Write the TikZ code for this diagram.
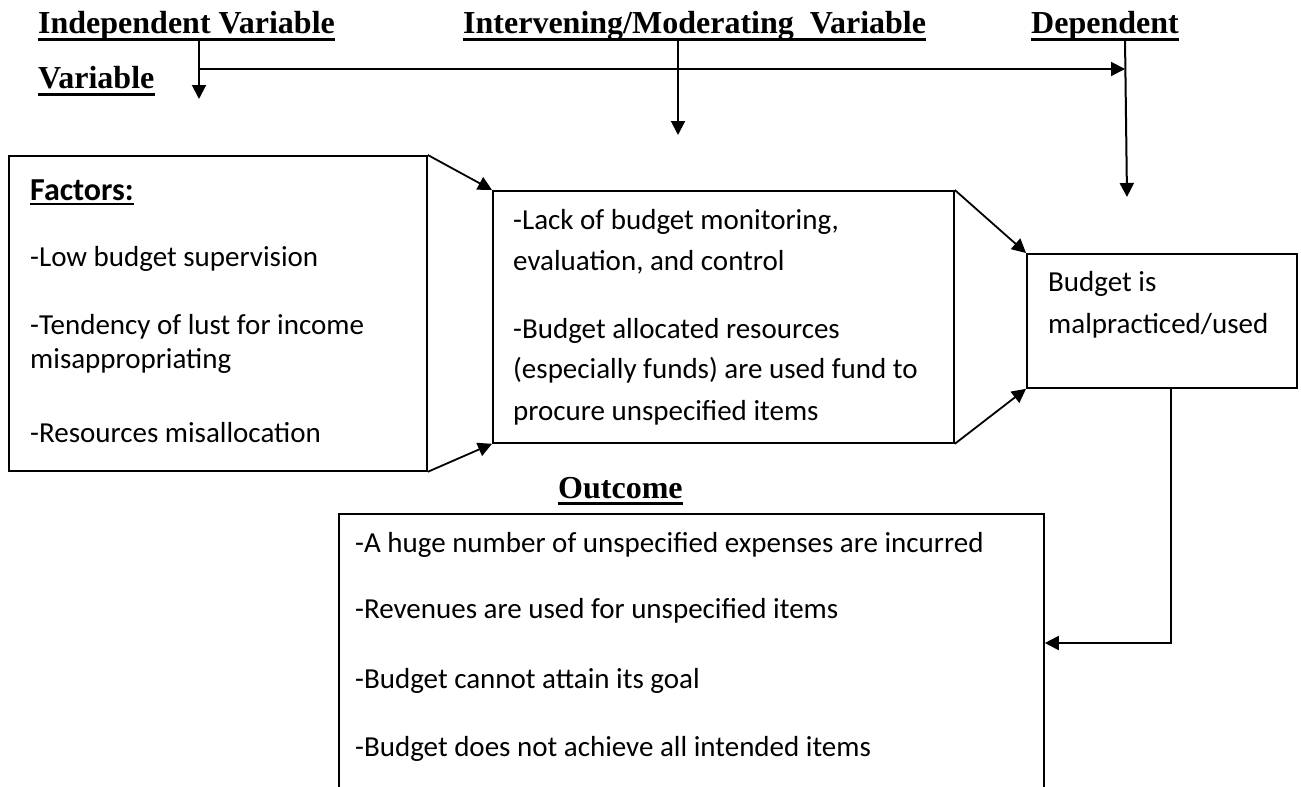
\documentclass[tikz,border=0pt]{standalone}
\usepackage{fontspec}
\setmainfont{Carlito}
\newfontfamily\headfont{Liberation Serif}
\usetikzlibrary{arrows.meta}
\begin{document}
\begin{tikzpicture}[x=1pt,y=-1pt,
  box/.style={draw, line width=1.8pt, inner sep=0pt, anchor=north west},
  body/.style={anchor=base west, inner sep=0pt, font=\fontsize{29}{35}\selectfont},
  boldbody/.style={anchor=base west, inner sep=0pt, font=\bfseries\fontsize{32}{38}\selectfont},
  head/.style={anchor=base west, inner sep=0pt, font=\headfont\bfseries\fontsize{32}{38}\selectfont},
  arr/.style={line width=2pt, -{Triangle[length=14pt,width=14pt]}},
  link/.style={line width=1.8pt, -{Triangle[length=14pt,width=14pt]}},
  uline/.style={line width=3pt}
]
\useasboundingbox (0,0) rectangle (1301,787);
\clip (0,0) rectangle (1301,787);

% boxes
\node[box, minimum width=418pt, minimum height=315pt] (lb) at (8,155) {};
\node[box, minimum width=461pt, minimum height=252pt] (mb) at (492,190) {};
\node[box, minimum width=270pt, minimum height=134pt] (rb) at (1026,253) {};
\node[box, minimum width=705pt, minimum height=300pt] (ob) at (338,513) {};

% headings
\node[head] (ind) at (38,33) {Independent Variable};
\node[head] (var) at (38,88) {Variable};
\node[head] (int) at (463,33) {Intervening/Moderating\ \ Variable};
\node[head] (dep) at (1031,33) {Dependent};
\node[head] (out) at (558,498) {Outcome};
\foreach \n in {ind,var,int,dep}{
  \draw[uline] ([yshift=-6pt]\n.base west) -- ([yshift=-6pt]\n.base east);
}
\draw[uline] ([yshift=-5.5pt]out.base west) -- ([yshift=-5.5pt]out.base east);

% top connectors
\coordinate (indtap) at (199,39);
\coordinate (indtip) at (199,99);
\coordinate (split) at (199,69);
\coordinate (hztip) at (1125,69);
\coordinate (inttap) at (678,39);
\coordinate (inttip) at (678,135);
\coordinate (deptap) at (1125,39);
\coordinate (deptip) at (1127,197);
\coordinate (bend) at (1171,643);
\draw[arr] (indtap) -- (indtip);
\draw[arr] (split) -- (hztip);
\draw[arr] (inttap) -- (inttip);
\draw[arr] (deptap) -- (deptip);

% box links
\draw[link] (lb.north east) -- (mb.north west);
\draw[link] (lb.south east) -- (mb.south west);
\draw[link] (mb.north east) -- (rb.north west);
\draw[link] (mb.south east) -- (rb.south west);
\draw[link] (rb.south -| bend) -- (bend) -- (ob.east |- bend);

% left box text
\node[boldbody] (f0) at (30,200) {Factors:};
\draw[line width=2pt] ([yshift=-3.5pt]f0.base west) -- ([yshift=-3.5pt]f0.base east);
\node[body] (f1) at (30,266) {-Low budget supervision};
\node[body] (f2) at (30,334) {-Tendency of lust for income};
\node[body] (f3) at (30,368) {misappropriating};
\node[body] (f4) at (30,442) {-Resources misallocation};

% middle box text
\node[body] (m1) at (513,229) {-Lack of budget monitoring,};
\node[body] (m2) at (513,270) {evaluation, and control};
\node[body] (m3) at (513,338) {-Budget allocated resources};
\node[body] (m4) at (513,378) {(especially funds) are used fund to};
\node[body] (m5) at (513,420) {procure unspecified items};

% right box text
\node[body] (r1) at (1048,291) {Budget is};
\node[body] (r2) at (1048,333) {malpracticed/used};

% outcome text
\node[body] (o1) at (355,552) {-A huge number of unspecified expenses are incurred};
\node[body] (o2) at (355,618) {-Revenues are used for unspecified items};
\node[body] (o3) at (355,688) {-Budget cannot attain its goal};
\node[body] (o4) at (355,756) {-Budget does not achieve all intended items};
\end{tikzpicture}
\end{document}
